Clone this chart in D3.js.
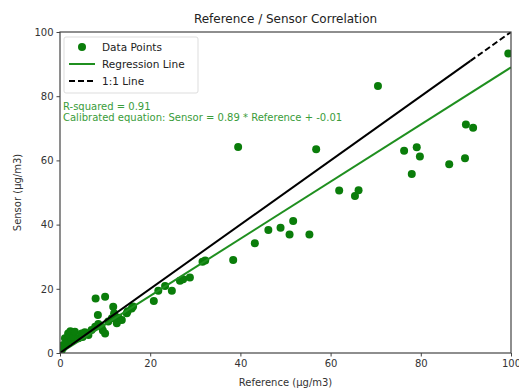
<!DOCTYPE html>
<html>
<head>
<meta charset="utf-8">
<script src="https://cdn.jsdelivr.net/npm/d3@7"></script>
<style>
  body { margin: 0; background: #fff; }
  svg text { font-family: "DejaVu Sans", sans-serif; fill: #222; }
</style>
</head>
<body>
<div id="chart"></div>
<script>
// Reference (x) readings, µg/m3
var refValues = [0.4,0.7,0.8,1.1,1.5,1.8,2.0,2.3,2.6,3.0,3.3,4.1,4.8,5.0,5.5,6.3,7.0,7.8,7.9,8.4,8.5,9.2,9.5,10.0,10.0,10.7,11.5,11.8,12.0,12.6,13.0,13.7,14.8,15.0,15.9,16.2,
  20.8,21.8,23.3,24.8,26.6,27.3,28.8,31.6,32.2,38.4,39.5,43.2,46.2,48.9,50.9,51.7,55.3,56.8,61.9,65.4,66.2,70.5,76.3,78.0,79.1,79.8,86.3,89.8,90.0,91.6,99.4];
// Sensor (y) readings, µg/m3
var sensorValues = [0.9,2.5,1.8,4.6,3.0,6.1,5.5,6.8,4.0,5.0,6.6,4.6,6.1,5.0,6.5,5.6,7.2,8.2,17.0,11.8,9.0,8.2,7.0,6.1,17.5,9.8,10.8,14.4,12.4,9.3,11.0,10.3,12.4,13.0,13.9,14.5,
  16.2,19.4,20.9,19.4,22.5,23.0,23.5,28.4,28.8,29.0,64.2,34.2,38.3,39.0,36.9,41.1,36.9,63.5,50.6,48.9,50.7,83.2,63.0,55.8,64.1,61.2,58.8,60.7,71.2,70.2,93.3];

var slope = 0.89, intercept = -0.01, rSquared = 0.91;
var xTicks = [0, 20, 40, 60, 80, 100];
var yTicks = [0, 20, 40, 60, 80, 100];
var legendLabels = ["Data Points", "Regression Line", "1:1 Line"];

var width = 519, height = 390;
var margin = {top: 32, right: 8, bottom: 37, left: 60};
var innerW = width - margin.left - margin.right;
var innerH = height - margin.top - margin.bottom;

var svg = d3.select("#chart").append("svg")
  .attr("width", width)
  .attr("height", height);

var g = svg.append("g")
  .attr("transform", "translate(" + margin.left + "," + margin.top + ")");

var x = d3.scaleLinear().domain([0, 100]).range([0, innerW]);
var y = d3.scaleLinear().domain([0, 100]).range([innerH, 0]);

var points = refValues.map(function(d, i) { return {x: d, y: sensorValues[i]}; });

//clip to the axes area
g.append("clipPath").attr("id", "clip")
  .append("rect").attr("width", innerW).attr("height", innerH);

var plot = g.append("g").attr("clip-path", "url(#clip)");

//scatter points
plot.selectAll("circle.pt")
  .data(points)
  .enter().append("circle")
  .attr("class", "pt")
  .attr("cx", function(d) { return x(d.x); })
  .attr("cy", function(d) { return y(d.y); })
  .attr("r", 4)
  .style("fill", "#0a7d0a");

//regression line
var line = d3.line().x(function(d) { return x(d[0]); }).y(function(d) { return y(d[1]); });
plot.append("path")
  .datum([[0, intercept], [100, slope * 100 + intercept]])
  .attr("d", line)
  .style("fill", "none")
  .style("stroke", "#1f8f1f")
  .style("stroke-width", 2);

//1:1 line - looks solid where many dashed segments overlap, dashed near the top
plot.append("path")
  .datum([[0, 0], [91, 91]])
  .attr("d", line)
  .style("fill", "none")
  .style("stroke", "#000")
  .style("stroke-width", 2);
plot.append("path")
  .datum([[91, 91], [100, 100]])
  .attr("d", line)
  .style("fill", "none")
  .style("stroke", "#000")
  .style("stroke-width", 2)
  .style("stroke-dasharray", "6,3");

//axes
var xAxis = g.append("g")
  .attr("transform", "translate(0," + innerH + ")")
  .call(d3.axisBottom(x).tickValues(xTicks).tickSize(3.5).tickPadding(3));
var yAxis = g.append("g")
  .call(d3.axisLeft(y).tickValues(yTicks).tickSize(3.5).tickPadding(3));
[xAxis, yAxis].forEach(function(a) {
  a.select(".domain").remove();
  a.selectAll("line").style("stroke", "#444");
  a.selectAll("text").style("font-size", "10px").style("fill", "#333")
    .style("font-family", "'DejaVu Sans', sans-serif");
});

//frame
g.append("rect")
  .attr("width", innerW).attr("height", innerH)
  .style("fill", "none").style("stroke", "#444").style("stroke-width", 1.2);

//title and axis labels
svg.append("text")
  .attr("x", margin.left + innerW / 2).attr("y", 23)
  .style("text-anchor", "middle").style("font-size", "12px")
  .text("Reference / Sensor Correlation");
svg.append("text")
  .attr("x", margin.left + innerW / 2).attr("y", 386)
  .style("text-anchor", "middle").style("font-size", "10px").style("fill", "#333")
  .text("Reference (µg/m3)");
svg.append("text")
  .attr("transform", "translate(21," + (margin.top + innerH / 2) + ") rotate(-90)")
  .style("text-anchor", "middle").style("font-size", "10px").style("fill", "#333")
  .text("Sensor (µg/m3)");

//legend
var legend = g.append("g").attr("transform", "translate(4,5)");
legend.append("rect")
  .attr("width", 134).attr("height", 56).attr("rx", 2)
  .style("fill", "#fff").style("fill-opacity", 0.85)
  .style("stroke", "#ddd");
legendLabels.forEach(function(lbl, i) {
  var ly = 10 + i * 17;
  if (i === 0) {
    legend.append("circle").attr("cx", 18).attr("cy", ly).attr("r", 4).style("fill", "#0a7d0a");
  } else {
    legend.append("line").attr("x1", 5).attr("x2", 31).attr("y1", ly).attr("y2", ly)
      .style("stroke", i === 1 ? "#1f8f1f" : "#000").style("stroke-width", 2)
      .style("stroke-dasharray", i === 2 ? "6,3" : null);
  }
  legend.append("text").attr("x", 38).attr("y", ly + 4)
    .style("font-size", "10.5px").text(lbl);
});

//annotation
var ann = g.append("g").attr("transform", "translate(3,0)");
ann.append("text").attr("y", 78)
  .style("font-size", "10px").style("fill", "#3a9c3a")
  .text("R-squared = " + rSquared.toFixed(2));
ann.append("text").attr("y", 89)
  .style("font-size", "10px").style("fill", "#3a9c3a")
  .text("Calibrated equation: Sensor = " + slope.toFixed(2) + " * Reference + " + intercept.toFixed(2));
</script>
</body>
</html>
